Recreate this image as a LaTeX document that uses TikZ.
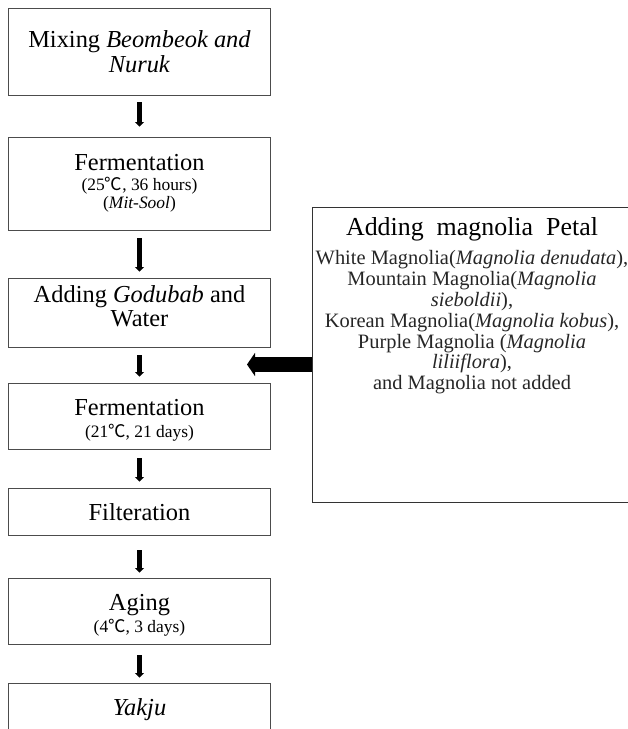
\documentclass[tikz,border=0pt]{standalone}
\usepackage{fontspec}
\setmainfont{Liberation Serif}
\newfontfamily\cjkfont{Noto Sans CJK SC}
\usetikzlibrary{arrows.meta}
\newcommand{\degC}{{\cjkfont ℃}}
\newcommand{\subtxt}{\fontsize{17.5}{18}\selectfont}
\newcommand{\padtop}[1]{\rule{0pt}{#1}}
\newcommand{\padbot}[1]{\rule[-#1]{0pt}{#1}}
\begin{document}
\begin{tikzpicture}[x=1bp,y=-1bp,
  stepbox/.style={draw=black!70, line width=0.9bp, minimum width=262.5bp, inner sep=0pt, align=center, font=\fontsize{24.5}{25}\selectfont},
  flow/.style={line width=4.5bp, -{Triangle[length=4.5bp,width=9bp]}},
  bigarrow/.style={line width=15bp, -{Triangle[length=8bp,width=23bp]}}]
\useasboundingbox (0,0) rectangle (628,729);
\clip (0,0) rectangle (628,729);
\node[stepbox, minimum height=87bp] (s1) at (139.5,51.5) {Mixing \textit{Beombeok and}\\\textit{Nuruk}};
\node[stepbox, minimum height=93bp] (s2) at (139.5,183.5) {Fermentation\\[-5bp]{\subtxt(25\degC, 36 hours)}\\[-7bp]{\subtxt(\textit{Mit-Sool})}};
\node[stepbox, minimum height=69bp] (s3) at (139.5,312.5) {Adding \textit{Godubab} and\\Water\padbot{13bp}};
\node[stepbox, minimum height=66bp] (s4) at (139.5,416) {\padtop{25.2bp}Fermentation\\[-3bp]{\subtxt(21\degC, 21 days)}};
\node[stepbox, minimum height=47bp] (s5) at (139.5,511.5) {\padtop{19.2bp}Filteration};
\node[stepbox, minimum height=66bp] (s6) at (139.5,611) {\padtop{25.2bp}Aging\\[-3bp]{\subtxt(4\degC, 3 days)}};
\node[stepbox, minimum height=50bp] (s7) at (139.5,708) {\padtop{19.2bp}\textit{Yakju}};
\draw[flow, shorten <=7bp, shorten >=10bp] (s1) -- (s2);
\draw[flow, shorten <=8bp, shorten >=6bp] (s2) -- (s3);
\draw[flow, shorten <=8bp, shorten >=6bp] (s3) -- (s4);
\draw[flow, shorten <=9bp, shorten >=6bp] (s4) -- (s5);
\draw[flow, shorten <=15bp, shorten >=5bp] (s5) -- (s6);
\draw[flow, shorten <=11bp, shorten >=5bp] (s6) -- (s7);
\node[draw=black!80, line width=0.9bp, anchor=north west, minimum width=320bp, minimum height=295bp, inner sep=0pt] (mag) at (312,207) {};
\node[font=\fontsize{26}{28}\selectfont, anchor=base, inner sep=0pt] (magtitle) at (472,235) {Adding\hspace{13bp}magnolia\hspace{13bp}Petal};
\node[font=\fontsize{20.5}{21}\selectfont, align=center, anchor=north, inner sep=0pt, text=black!85] (magbody) at (472,250) {White Magnolia(\textit{Magnolia denudata}),\\Mountain Magnolia(\textit{Magnolia}\\\textit{sieboldii}),\\Korean Magnolia(\textit{Magnolia kobus}),\\Purple Magnolia (\textit{Magnolia}\\\textit{liliiflora}),\\and Magnolia not added};
\coordinate (tip) at (247,364.5);
\draw[bigarrow] (mag.west |- tip) -- (tip);
\end{tikzpicture}
\end{document}
